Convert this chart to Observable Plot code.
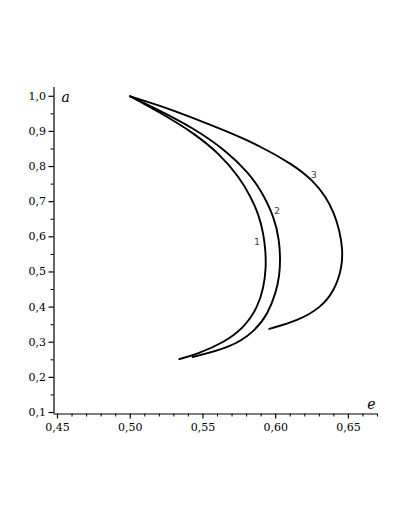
<!DOCTYPE html>
<html>
<head>
<meta charset="utf-8">
<script src="https://cdn.jsdelivr.net/npm/d3@7"></script>
<script src="https://cdn.jsdelivr.net/npm/@observablehq/plot@0.6"></script>
<style>
  html, body { margin: 0; padding: 0; background: #fff; }
</style>
</head>
<body>
<div id="chart"></div>
<script>
// Curve 1
const curve1E = [0.500, 0.5199, 0.5429, 0.5612, 0.5750, 0.5830, 0.5885, 0.5916, 0.5930, 0.5934, 0.5918, 0.5876, 0.5784, 0.5647, 0.5464, 0.5337];
const curve1A = [1.000, 0.955, 0.898, 0.837, 0.770, 0.713, 0.661, 0.609, 0.561, 0.513, 0.456, 0.399, 0.342, 0.300, 0.267, 0.252];
// Curve 2
const curve2E = [0.500, 0.5199, 0.5429, 0.5658, 0.5819, 0.5899, 0.5991, 0.6025, 0.6032, 0.6026, 0.6002, 0.5947, 0.5853, 0.5693, 0.5429];
const curve2A = [1.000, 0.960, 0.911, 0.846, 0.780, 0.732, 0.656, 0.590, 0.533, 0.490, 0.441, 0.381, 0.330, 0.285, 0.258];
// Curve 3
const curve3E = [0.500, 0.5199, 0.5429, 0.5658, 0.5887, 0.6117, 0.6255, 0.6347, 0.6402, 0.6439, 0.6460, 0.6457, 0.6404, 0.6312, 0.6152, 0.5956];
const curve3A = [1.000, 0.974, 0.939, 0.901, 0.860, 0.806, 0.761, 0.713, 0.667, 0.618, 0.567, 0.513, 0.447, 0.399, 0.361, 0.338];

// Curve labels
const labelText = ["1", "2", "3"];
const labelE = [0.5872, 0.6009, 0.6262];
const labelA = [0.585, 0.675, 0.775];

// Ticks
const xTicks = [0.45, 0.50, 0.55, 0.60, 0.65];
const xMinor = [0.46, 0.47, 0.48, 0.49, 0.51, 0.52, 0.53, 0.54, 0.56, 0.57, 0.58, 0.59, 0.61, 0.62, 0.63, 0.64, 0.66, 0.67];
const yTicks = [0.1, 0.2, 0.3, 0.4, 0.5, 0.6, 0.7, 0.8, 0.9, 1.0];
const yMinor = [0.15, 0.25, 0.35, 0.45, 0.55, 0.65, 0.75, 0.85, 0.95];

const rows = [];
[[curve1E, curve1A, "1"], [curve2E, curve2A, "2"], [curve3E, curve3A, "3"]].forEach(([E, A, s]) => {
  E.forEach((e, i) => rows.push({e, a: A[i], s}));
});
const labels = labelText.map((t, i) => ({t, e: labelE[i], a: labelA[i]}));

const fmt = (n) => (d) => d.toFixed(n).replace(".", ",");

const chart = Plot.plot({
  width: 410,
  height: 530,
  marginLeft: 57,
  marginRight: 33,
  marginTop: 87,
  marginBottom: 118,
  x: {domain: [0.45, 0.67]},
  y: {domain: [0.1, 1.025]},
  style: {fontFamily: "DejaVu Serif", fontSize: "11px", color: "black", background: "white"},
  marks: [
    Plot.ruleX([0.45], {dx: -3.5, insetBottom: -1.5, stroke: "black", strokeWidth: 1.2}),
    Plot.ruleY([0.1], {dy: 1.5, insetLeft: -3.5, stroke: "black", strokeWidth: 1.2}),
    Plot.axisX({ticks: xTicks, tickSize: 5, tickPadding: 4, dy: 1.5, tickFormat: fmt(2), label: null, strokeWidth: 1.2}),
    Plot.axisX({ticks: xMinor, tickSize: 3, dy: 1.5, tickFormat: () => "", label: null, strokeWidth: 1}),
    Plot.axisY({ticks: yTicks, tickSize: 5, tickPadding: 3, dx: -3.5, tickFormat: fmt(1), label: null, strokeWidth: 1.2}),
    Plot.axisY({ticks: yMinor, tickSize: 3, dx: -3.5, tickFormat: () => "", label: null, strokeWidth: 1}),
    Plot.text(["a"], {frameAnchor: "top-left", dx: 4, dy: 14, textAnchor: "start", lineAnchor: "bottom", fontStyle: "italic", fontSize: 14}),
    Plot.text(["e"], {frameAnchor: "bottom-right", dx: -2, dy: -4, textAnchor: "end", lineAnchor: "bottom", fontStyle: "italic", fontSize: 14}),
    Plot.line(rows, {x: "e", y: "a", z: "s", stroke: "black", strokeWidth: 1.9, curve: "basis"}),
    Plot.text(labels, {x: "e", y: "a", text: "t", fill: "#444", fontFamily: "DejaVu Sans", fontSize: 9.5})
  ]
});
document.getElementById("chart").appendChild(chart);
</script>
</body>
</html>
